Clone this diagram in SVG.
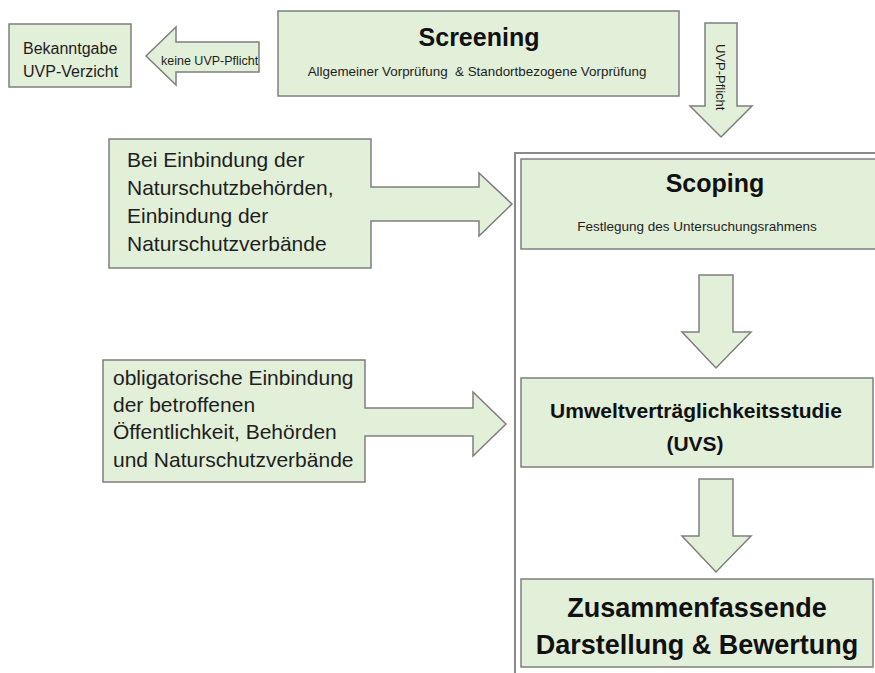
<svg xmlns="http://www.w3.org/2000/svg" width="875" height="673" viewBox="0 0 875 673">
<style>
.sh{fill:#e2efd9;stroke:#7f7f7f;stroke-width:1.5;stroke-linejoin:miter}
.t{font-family:"Liberation Sans",Arial,sans-serif;fill:#1e1e1e}
.b{font-weight:bold;fill:#111111}
.c{text-anchor:middle}
</style>
<rect width="875" height="673" fill="#ffffff"/>
<g id="container">
<path d="M515,680 V153 H880" fill="none" stroke="#8a8a8a" stroke-width="2"/>
</g>
<g id="connectors">
<polygon class="sh" points="259,42 176,42 176,27 146,56 176,85 176,72 259,72"/>
<polygon class="sh" points="705,23 737,23 737,106 752,106 721,137 690,106 705,106"/>
<polygon class="sh" points="699,275 733,275 733,332 751,332 716,368 682,332 699,332"/>
<polygon class="sh" points="699,479 733,479 733,536 751,536 716,572 682,536 699,536"/>
<text class="t" x="161" y="65" font-size="12.5">keine UVP-Pflicht</text>
<text class="t" font-size="13" transform="translate(716,44) rotate(90)">UVP-Pflicht</text>
</g>
<g id="bekanntgabe">
<rect class="sh" x="9" y="24" width="122" height="63"/>
<text class="t" x="23" y="54" font-size="16">Bekanntgabe</text>
<text class="t" x="23" y="77" font-size="16">UVP-Verzicht</text>
</g>
<g id="screening">
<rect class="sh" x="278" y="11" width="401" height="85"/>
<text class="t b c" x="479" y="46" font-size="25">Screening</text>
<text class="t c" x="477" y="76" font-size="13.4" xml:space="preserve">Allgemeiner Vorprüfung  &amp; Standortbezogene Vorprüfung</text>
</g>
<g id="naturschutz">
<path class="sh" d="M109,139 H371 V187 H479 V173 L512,204 L479,236 V221 H371 V268 H109 Z"/>
<text class="t" x="127" y="167" font-size="21">Bei Einbindung der</text>
<text class="t" x="127" y="195" font-size="21">Naturschutzbehörden,</text>
<text class="t" x="127" y="223" font-size="21">Einbindung der</text>
<text class="t" x="127" y="251" font-size="21">Naturschutzverbände</text>
</g>
<g id="oeffentlichkeit">
<path class="sh" d="M103,360 H365 V408 H473 V392 L506,424 L473,456 V436 H365 V482 H103 Z"/>
<text class="t" x="113" y="385" font-size="21">obligatorische Einbindung</text>
<text class="t" x="113" y="412" font-size="21">der betroffenen</text>
<text class="t" x="113" y="439" font-size="21">Öffentlichkeit, Behörden</text>
<text class="t" x="113" y="467" font-size="21">und Naturschutzverbände</text>
</g>
<g id="scoping">
<rect class="sh" x="521" y="159" width="360" height="90"/>
<text class="t b c" x="715" y="192" font-size="25">Scoping</text>
<text class="t c" x="697" y="231" font-size="13.5">Festlegung des Untersuchungsrahmens</text>
</g>
<g id="uvs">
<rect class="sh" x="521" y="378" width="352" height="89"/>
<text class="t b c" x="696" y="418" font-size="21">Umweltverträglichkeitsstudie</text>
<text class="t b c" x="695" y="451" font-size="21">(UVS)</text>
</g>
<g id="zusammenfassung">
<rect class="sh" x="521" y="579" width="352" height="88"/>
<text class="t b c" x="697" y="617" font-size="27">Zusammenfassende</text>
<text class="t b c" x="697" y="654" font-size="27">Darstellung &amp; Bewertung</text>
</g>
</svg>
